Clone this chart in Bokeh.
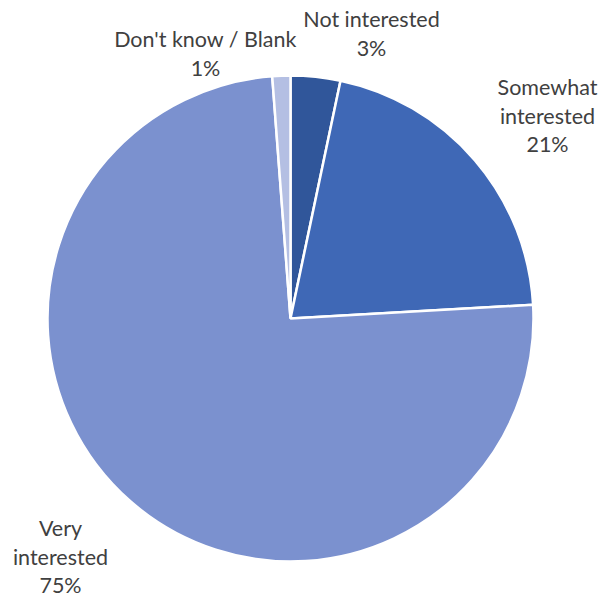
import math
from bokeh.plotting import figure
from bokeh.models import Range1d, ColumnDataSource
from bokeh.core.properties import value
from bokeh.embed import file_html
from bokeh.resources import INLINE

categories = ["Not interested", "Somewhat interested", "Very interested", "Don't know / Blank"]
shares = [3.3, 20.8, 74.7, 1.2]
colors = ["#30569A", "#3F68B6", "#7B91CF", "#B4BFE3"]

W, H = 602, 598
cx, cy, r = 290, H - 318, 243

total = sum(shares)
starts, ends = [], []
cum = 0.0
for s in shares:
    a0 = math.pi / 2 - 2 * math.pi * cum / total
    cum += s
    a1 = math.pi / 2 - 2 * math.pi * cum / total
    starts.append(a1)
    ends.append(a0)

src = ColumnDataSource(dict(x=[cx] * 4, y=[cy] * 4, start=starts, end=ends, color=colors))

p = figure(width=W, height=H, output_backend="svg", toolbar_location=None,
           x_range=Range1d(0, W), y_range=Range1d(0, H), min_border=0)
p.axis.visible = False
p.grid.visible = False
p.outline_line_color = None
p.background_fill_color = "white"

p.wedge(x="x", y="y", radius=r, start_angle="start", end_angle="end",
        fill_color="color", line_color="white", line_width=2.5, source=src)

# label layout (pixel positions of the label block centres)
label_pos = [(371, 33), (547, 115), (60, 556), (205, 53)]
line_gap = 28.5
tx, ty, tt = [], [], []
for cat, s, (lx, ly) in zip(categories, shares, label_pos):
    if cat == "Somewhat interested":
        lines = ["Somewhat", "interested"]
    elif cat == "Very interested":
        lines = ["Very", "interested"]
    else:
        lines = [cat]
    lines = lines + [f"{round(s)}%"]
    n = len(lines)
    for i, t in enumerate(lines):
        tx.append(lx)
        ty.append(H - (ly + (i - (n - 1) / 2) * line_gap))
        tt.append(t)

p.text(x=tx, y=ty, text=tt, text_align="center", text_baseline="middle",
       text_font=value("Lato"), text_font_size="21.5px", text_color="#404040")

open("out.html", "w").write(file_html(p, INLINE))
